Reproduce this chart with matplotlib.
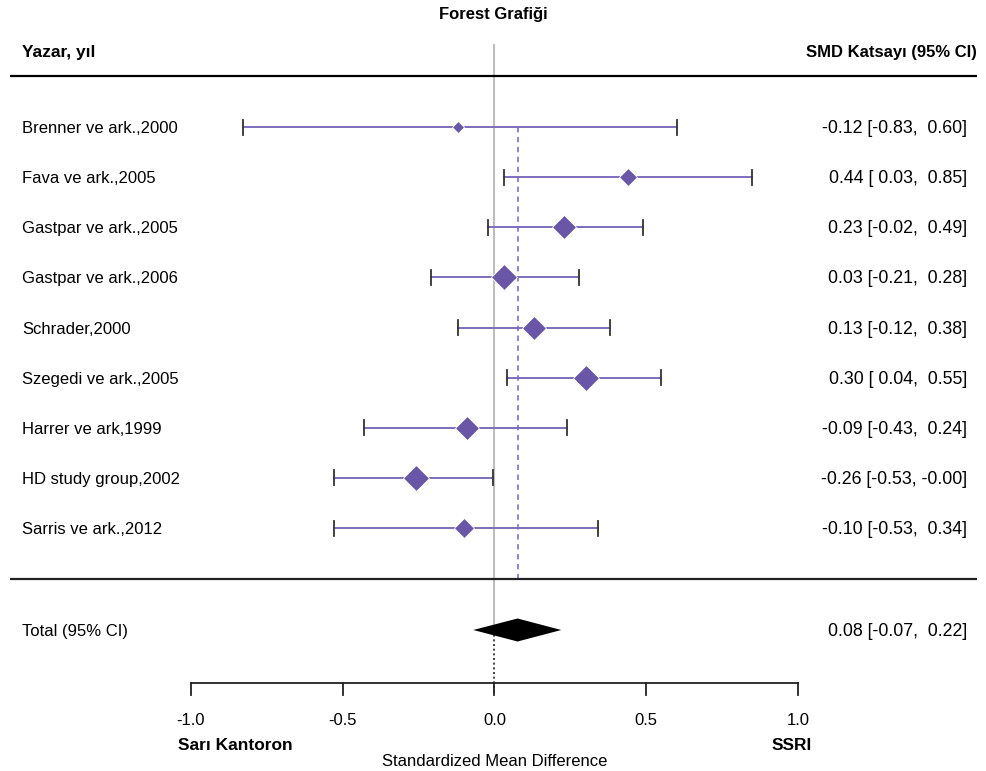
import matplotlib
matplotlib.use("Agg")
import matplotlib.pyplot as plt

plt.rcParams['font.family'] = ['Liberation Sans', 'DejaVu Sans']

# ---------------- data ----------------
studies = ["Brenner ve ark.,2000", "Fava ve ark.,2005", "Gastpar ve ark.,2005",
           "Gastpar ve ark.,2006", "Schrader,2000", "Szegedi ve ark.,2005",
           "Harrer ve ark,1999", "HD study group,2002", "Sarris ve ark.,2012"]
smd = [-0.12, 0.44, 0.23, 0.03, 0.13, 0.30, -0.09, -0.26, -0.10]
ci_low = [-0.83, 0.03, -0.02, -0.21, -0.12, 0.04, -0.43, -0.53, -0.53]
ci_high = [0.60, 0.85, 0.49, 0.28, 0.38, 0.55, 0.24, -0.004, 0.34]
marker_sizes = [5.8, 9.4, 12.4, 12.8, 12.6, 13.2, 12.4, 12.8, 10.6]  # study weights (box size)

total_label = "Total (95% CI)"
total_smd = 0.076
total_low = -0.07
total_high = 0.22

x_ticks = [-1.0, -0.5, 0.0, 0.5, 1.0]
x_tick_labels = ["-1.0", "-0.5", "0.0", "0.5", "1.0"]

title = "Forest Grafiği"
left_header = "Yazar, yıl"
right_header = "SMD Katsayı (95% CI)"
left_favour = "Sarı Kantoron"
right_favour = "SSRI"
x_label = "Standardized Mean Difference"

# ---------------- layout ----------------
W, H = 987, 771
fig = plt.figure(figsize=(W / 100, H / 100), dpi=100)
ax = fig.add_axes([0, 0, 1, 1])
ax.set_axis_off()

PX_ZERO, PX_PER_UNIT = 494.5, 303.5
ROW0_PX, ROW_STEP = 127.0, 50.125
ax.set_xlim((0 - PX_ZERO) / PX_PER_UNIT, (W - PX_ZERO) / PX_PER_UNIT)
ax.set_ylim((H - ROW0_PX) / ROW_STEP, (0 - ROW0_PX) / ROW_STEP)

def ypx(p):
    return (p - ROW0_PX) / ROW_STEP

def xfrac(p):
    return p / W

n = len(studies)
rows = list(range(n))
total_row = ypx(630)
axis_row = ypx(683)

line_col = "#7E6EBB"
mark_col = "#6A56A6"
dash_col = "#8A7CC4"
cap_col = "#333333"

FS = 12
FS_NUM = 12.8
FS_B = 12

# axes-fraction x, data y
tr = ax.get_yaxis_transform()
TXT_DY = 1.5 / ROW_STEP

# header
fig.text(0.5, 1 - 15 / H, title, ha="center", va="center", fontsize=12, fontweight="bold")
ax.text(xfrac(22), ypx(53), left_header, transform=tr, ha="left", va="center",
        fontsize=FS_B + 0.5, fontweight="bold")
ax.text(xfrac(977), ypx(53), right_header, transform=tr, ha="right", va="center",
        fontsize=FS_B, fontweight="bold")
ax.plot([xfrac(10), xfrac(977)], [ypx(76), ypx(76)], transform=tr, color="black", lw=1.6,
        solid_capstyle="butt")
ax.plot([xfrac(10), xfrac(977)], [ypx(578.5), ypx(578.5)], transform=tr, color="#222222", lw=1.6,
        solid_capstyle="butt")

# zero reference line
ax.plot([0, 0], [ypx(45), total_row], color="#BEBEBE", lw=1.5, zorder=1)
ax.plot([0, 0], [total_row, axis_row + ypx(695) - ypx(683)], color="#222222", lw=1.2,
        ls=(0, (1.2, 1.6)), zorder=1)
# pooled estimate dashed line
ax.plot([total_smd, total_smd], [rows[0], ypx(578)], color=dash_col, lw=1.3,
        ls=(0, (3, 2.5)), zorder=1)

# studies
cap_half = 7.5 / ROW_STEP
for i, (lab, m, lo, hi, ms) in enumerate(zip(studies, smd, ci_low, ci_high, marker_sizes)):
    ax.plot([lo, hi], [i, i], color=line_col, lw=1.4, zorder=2)
    ax.plot([lo, lo], [i - cap_half, i + cap_half], color=cap_col, lw=1.3, zorder=3)
    if hi < -0.001 or hi > 0.001:
        ax.plot([hi, hi], [i - cap_half, i + cap_half], color=cap_col, lw=1.3, zorder=3)
    ax.plot([m], [i], marker="D", ms=ms, color=mark_col, mec="white", mew=0.6, zorder=4)
    ax.text(xfrac(22), i + TXT_DY, lab, transform=tr, ha="left", va="center", fontsize=FS)
    ax.text(xfrac(967), i + TXT_DY, f"{m:.2f} [{lo:5.2f}, {hi:5.2f}]", transform=tr,
            ha="right", va="center", fontsize=FS_NUM)

# total diamond
dh = 11.5 / ROW_STEP
ax.fill([total_low, total_smd, total_high, total_smd],
        [total_row, total_row - dh, total_row, total_row + dh],
        color="black", zorder=4, lw=0)
ax.text(xfrac(22), total_row + TXT_DY, total_label, transform=tr, ha="left", va="center", fontsize=FS)
ax.text(xfrac(967), total_row + TXT_DY, f"{total_smd:.2f} [{total_low:5.2f}, {total_high:5.2f}]",
        transform=tr, ha="right", va="center", fontsize=FS_NUM)

# x axis
tick_len = ypx(695) - ypx(683)
ax.plot([x_ticks[0], x_ticks[-1]], [axis_row, axis_row], color="#222222", lw=1.3)
for t, tl in zip(x_ticks, x_tick_labels):
    ax.plot([t, t], [axis_row, axis_row + tick_len], color="#222222", lw=1.3)
    ax.text(t, ypx(720), tl, ha="center", va="center", fontsize=FS)
ax.text(xfrac(178), ypx(745), left_favour, transform=tr, ha="left", va="center",
        fontsize=12.5, fontweight="bold")
ax.text(xfrac(812), ypx(745), right_favour, transform=tr, ha="right", va="center",
        fontsize=12.5, fontweight="bold")
ax.text(0, ypx(761), x_label, ha="center", va="center", fontsize=FS)

fig.savefig("out.png", dpi=100)
